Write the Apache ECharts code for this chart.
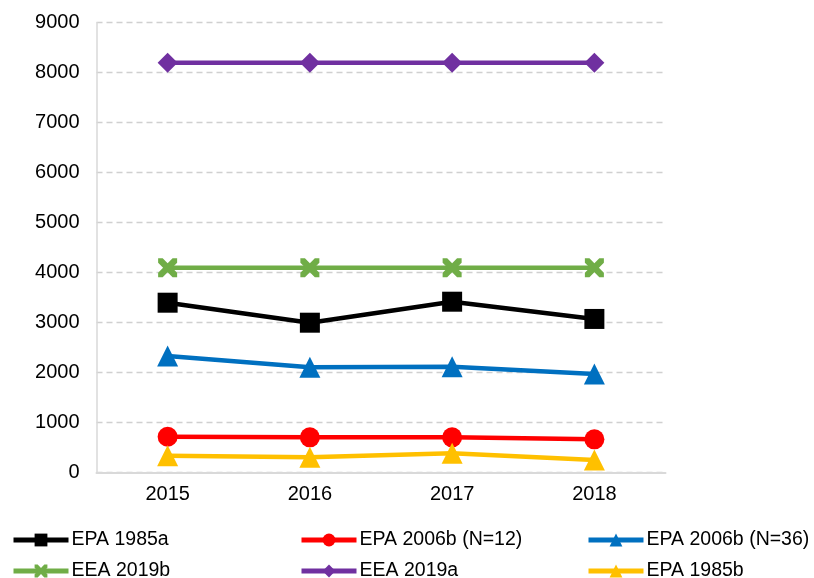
<!DOCTYPE html>
<html>
<head>
<meta charset="utf-8">
<style>
  html, body { margin: 0; padding: 0; background: #fff; }
  #chart { width: 814px; height: 578px; }
</style>
<script src="https://cdn.jsdelivr.net/npm/echarts@6/dist/echarts.min.js"></script>
</head>
<body>
<div id="chart"></div>
<script>
// Years on the category axis
const years = ['2015', '2016', '2017', '2018'];

// Series values per year
const epa1985a = [3400, 3000, 3420, 3075];
const epa2006b12 = [720, 707, 707, 667];
const epa2006b36 = [2334, 2107, 2120, 1974];
const eea2019b = [4100, 4100, 4100, 4100];
const eea2019a = [8200, 8200, 8200, 8200];
const epa1985b = [340, 307, 387, 253];

// Y axis tick range
const yMin = 0, yMax = 9000, yStep = 1000;

const FONT = 'Liberation Sans, Arial, sans-serif';
const crossPath = 'path://M0,0 L2.4,0 L5,2.6 L7.6,0 L10,0 L10,2.4 L7.4,5 L10,7.6 L10,10 L7.6,10 L5,7.4 L2.4,10 L0,10 L0,7.6 L2.6,5 L0,2.4 Z';

const seriesDefs = [
  { name: 'EPA 1985a', data: epa1985a, color: '#000000', symbol: 'rect', size: 20 },
  { name: 'EPA 2006b (N=12)', data: epa2006b12, color: '#ff0000', symbol: 'circle', size: 20 },
  { name: 'EPA 2006b (N=36)', data: epa2006b36, color: '#0070c0', symbol: 'triangle', size: 21 },
  { name: 'EEA 2019b', data: eea2019b, color: '#70ad47', symbol: crossPath, size: 19 },
  { name: 'EEA 2019a', data: eea2019a, color: '#7030a0', symbol: 'diamond', size: 20 },
  { name: 'EPA 1985b', data: epa1985b, color: '#ffc000', symbol: 'triangle', size: 21 }
];

// Legend placement: three columns, two rows
const legendPos = [
  { left: 11, top: 530 }, { left: 299, top: 530 }, { left: 586, top: 530 },
  { left: 11, top: 561 }, { left: 299, top: 561 }, { left: 586, top: 561 }
];

const chart = echarts.init(document.getElementById('chart'), null, { renderer: 'canvas' });

chart.setOption({
  animation: false,
  backgroundColor: '#ffffff',
  textStyle: { fontFamily: FONT },
  grid: { left: 96.5, right: 148.5, top: 22.7, bottom: 105.3, containLabel: false },
  xAxis: {
    type: 'category',
    data: years,
    boundaryGap: true,
    axisLine: { show: true, lineStyle: { color: '#d9d9d9', width: 2 } },
    axisTick: { show: false },
    axisLabel: { color: '#000', fontSize: 20, margin: 12, fontFamily: FONT },
    splitLine: { show: false }
  },
  yAxis: {
    type: 'value',
    min: yMin, max: yMax, interval: yStep,
    axisLine: { show: true, lineStyle: { color: '#d9d9d9', width: 1.5 } },
    axisTick: { show: false },
    axisLabel: { color: '#000', fontSize: 20, margin: 17, fontFamily: FONT, formatter: v => String(v) },
    splitLine: { show: true, lineStyle: { color: '#d0d0d0', type: [6, 4], width: 1.3 } }
  },
  legend: seriesDefs.map((s, i) => ({
    data: [s.name],
    left: legendPos[i].left,
    top: legendPos[i].top,
    padding: 0,
    itemWidth: 55,
    itemHeight: 16,
    itemGap: 3,
    lineStyle: { width: 5, color: s.color },
    itemStyle: { color: s.color },
    textStyle: { color: '#000', fontSize: 19.5, fontFamily: FONT, padding: [0, 0, 0, -2] },
    selectedMode: false
  })),
  series: seriesDefs.map(s => ({
    name: s.name,
    type: 'line',
    data: s.data,
    symbol: s.symbol,
    symbolSize: s.size,
    showSymbol: true,
    color: s.color,
    lineStyle: { color: s.color, width: 4.5 },
    itemStyle: { color: s.color, borderWidth: 0 },
    z: 2
  }))
});
</script>
</body>
</html>
